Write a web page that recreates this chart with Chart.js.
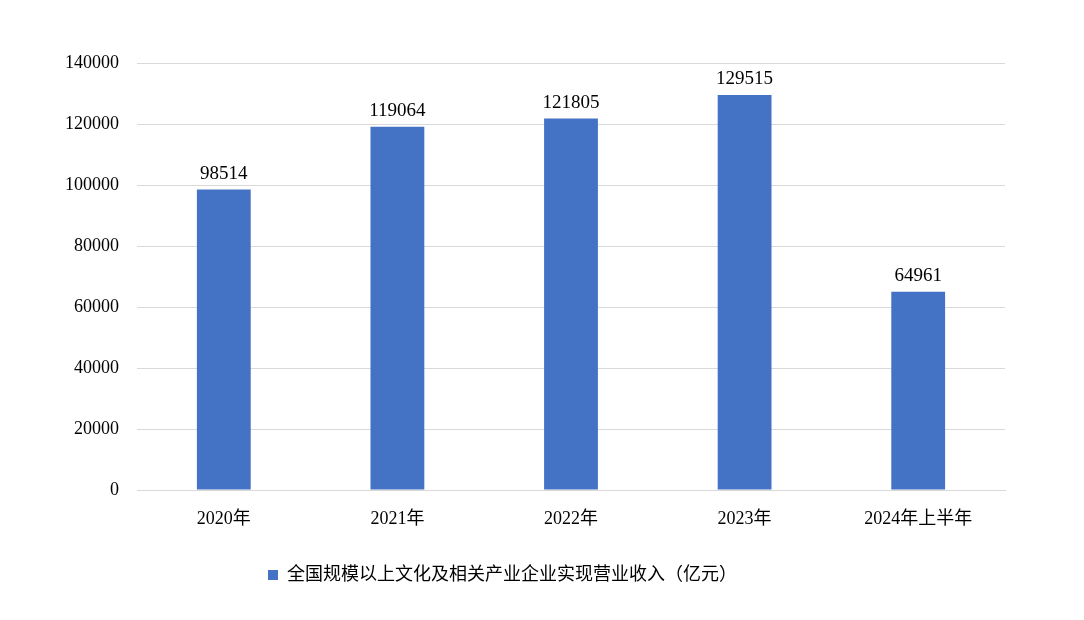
<!DOCTYPE html>
<html>
<head>
<meta charset="utf-8">
<script src="https://cdn.jsdelivr.net/npm/chart.js@4/dist/chart.umd.min.js"></script>
<style>
  html, body { margin: 0; padding: 0; background: #fff; }
  #wrap { width: 1084px; height: 620px; }
</style>
</head>
<body>
<div id="wrap"><canvas id="chart"></canvas></div>
<script>
// Data
const categories = ['2020年', '2021年', '2022年', '2023年', '2024年上半年'];
const revenue = [98514, 119064, 121805, 129515, 64961];
const seriesName = '全国规模以上文化及相关产业企业实现营业收入（亿元）';

const FONT = '"Liberation Serif", "Noto Sans CJK SC", serif';

// Value labels above bars
const barLabels = {
  id: 'barLabels',
  afterDatasetsDraw(chart) {
    const ctx = chart.ctx;
    const meta = chart.getDatasetMeta(0);
    ctx.save();
    ctx.font = '19px ' + FONT;
    ctx.fillStyle = '#000';
    ctx.textAlign = 'center';
    ctx.textBaseline = 'bottom';
    meta.data.forEach((bar, i) => {
      ctx.fillText(String(revenue[i]), bar.x, bar.y - 6);
    });
    ctx.restore();
  }
};

new Chart(document.getElementById('chart'), {
  type: 'bar',
  data: {
    labels: categories,
    datasets: [{
      label: seriesName,
      data: revenue,
      backgroundColor: '#4472C4',
      categoryPercentage: 1,
      barPercentage: 0.31
    }]
  },
  options: {
    responsive: true,
    maintainAspectRatio: false,
    animation: false,
    layout: { padding: { left: 0, right: 79, top: 63, bottom: 26 } },
    scales: {
      x: {
        grid: { display: false },
        border: { color: '#d9d9d9' },
        ticks: { color: '#000', font: { size: 18, family: FONT }, padding: 10 },
        afterFit(scale) { scale.height = 66; }
      },
      y: {
        min: 0,
        max: 140000,
        ticks: {
          stepSize: 20000, color: '#000', font: { size: 18, family: FONT }, padding: 18,
          callback: v => String(v)
        },
        grid: { color: '#d9d9d9', drawTicks: false },
        border: { display: false },
        afterFit(scale) { scale.width = 137; }
      }
    },
    plugins: {
      legend: {
        position: 'bottom',
        labels: {
          color: '#000',
          font: { size: 18, family: FONT },
          usePointStyle: true,
          pointStyle: 'rect',
          boxWidth: 10,
          boxHeight: 10
        }
      },
      tooltip: { enabled: false }
    }
  },
  plugins: [barLabels]
});
</script>
</body>
</html>
